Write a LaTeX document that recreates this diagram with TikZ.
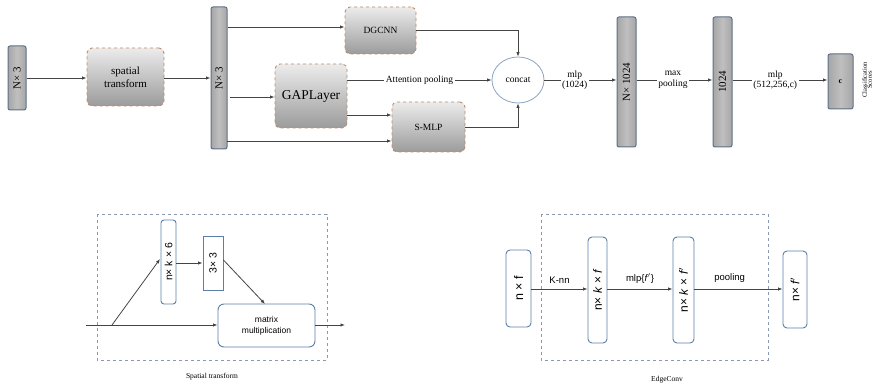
\documentclass[tikz,border=0pt]{standalone}
\usepackage{fontspec}
\setmainfont{Liberation Serif}
\setsansfont{Liberation Sans}
\usetikzlibrary{arrows.meta,shapes.geometric}
\definecolor{barborder}{HTML}{5E7088}
\definecolor{dashorange}{HTML}{C08A6A}
\definecolor{boxblue}{HTML}{5B7FA8}
\definecolor{framegray}{HTML}{8A98B0}
\definecolor{linegray}{HTML}{444444}
\tikzset{
  every picture/.style={x=1pt,y=-1pt},
  bar/.style={draw=barborder,line width=1pt,rounded corners=2pt,left color=gray!70,right color=gray!70,middle color=gray!50,inner sep=0pt,font=\fontsize{11}{12}\selectfont},
  dbox/.style={draw=dashorange,dashed,line width=0.9pt,rounded corners=5pt,top color=gray!15,bottom color=gray!78,inner sep=0pt,align=center},
  wbox/.style={draw=boxblue,line width=0.9pt,rounded corners=3pt,fill=white,inner sep=0pt,font=\sffamily},
  frame/.style={draw=framegray,dashed,line width=0.7pt},
  conn/.style={draw=linegray,line width=0.8pt},
  arr/.style={conn,-{Latex[length=4.5pt,width=3.5pt]}},
  lbl/.style={fill=white,inner sep=1.5pt,align=center,font=\fontsize{9.5}{10.5}\selectfont}
}
\begin{document}
\begin{tikzpicture}
\useasboundingbox (0,0) rectangle (879,387);
% ---------- top row ----------
\node[bar,minimum width=18pt,minimum height=64pt] (in) at (17,78) {\rotatebox{90}{N× 3}};
\node[dbox,minimum width=77pt,minimum height=58pt,font=\fontsize{11}{12.5}\selectfont] (st) at (125.5,77) {spatial\\transform};
\node[bar,minimum width=16pt,minimum height=142pt] (b1) at (219,78) {\rotatebox{90}{N× 3}};
\node[dbox,minimum width=71pt,minimum height=47pt,font=\fontsize{9.5}{10}\selectfont] (dg) at (380.5,30.5) {DGCNN};
\node[dbox,minimum width=72pt,minimum height=64pt,font=\fontsize{13.5}{15}\selectfont] (gap) at (311,96) {GAPLayer};
\node[dbox,minimum width=73pt,minimum height=50pt,font=\fontsize{9.5}{10}\selectfont] (sm) at (428.5,127) {S-MLP};
\node[ellipse,draw=boxblue!70,line width=0.8pt,fill=white,minimum width=52pt,minimum height=46pt,inner sep=0pt,font=\fontsize{9.5}{10}\selectfont] (cc) at (518,80) {concat};
\node[bar,minimum width=19pt,minimum height=130pt] (b2) at (626.5,82) {\rotatebox{90}{N× 1024}};
\node[bar,minimum width=19pt,minimum height=130pt] (b3) at (722.5,82) {\rotatebox{90}{1024}};
\node[bar,minimum width=25pt,minimum height=55pt,font=\bfseries\fontsize{8}{9}\selectfont] (c) at (840.5,81.5) {c};
\node[inner sep=0pt,font=\fontsize{6.5}{7}\selectfont,align=center] (cls) at (868,80) {\rotatebox{90}{\begin{tabular}{@{}c@{}}Classification\\[-2pt]Scores\end{tabular}}};

\coordinate (g0) at (230,97);
\coordinate (s0) at (227,141);
\coordinate (s1) at (347,115);
\draw[arr] (in.east |- 0,78) -- (st.west |- 0,78);
\draw[arr] (st.east |- 0,78) -- (b1.west |- 0,78);
\draw[arr] (b1.east |- 0,27) -- (dg.west |- 0,27);
\draw[arr] (g0) -- (gap.west |- g0);
\draw[arr] (s0) -- (sm.west |- s0);
\draw[arr] (s1) -- (sm.west |- s1);
\draw[arr] (dg.east) -| (cc.north);
\draw[arr] (sm.east) -| (cc.south);
\draw[arr] (gap.east |- cc.west) -- node[lbl]{Attention pooling} (cc.west);
\draw[arr] (cc.east) -- node[lbl,pos=0.42]{mlp\\(1024)} (b2.west |- cc.east);
\draw[arr] (b2.east |- cc.east) -- node[lbl,pos=0.48]{max\\pooling} (b3.west |- cc.east);
\draw[arr] (b3.east |- cc.east) -- node[lbl,pos=0.45]{mlp\\(512,256,c)} (c.west |- cc.east);

% ---------- spatial transform ----------
\draw[frame] (97,214) rectangle (327,360);
\node[wbox,minimum width=15pt,minimum height=84pt,font=\sffamily\fontsize{10.5}{12}\selectfont] (nk6) at (168.5,262) {\rotatebox{90}{n× k × 6}};
\node[wbox,rounded corners=0pt,minimum width=20pt,minimum height=54pt,font=\sffamily\fontsize{10.5}{12}\selectfont] (b33) at (213,263) {\rotatebox{90}{3× 3}};
\node[wbox,rounded corners=6pt,minimum width=97pt,minimum height=43pt,align=center,font=\sffamily\fontsize{8.5}{11}\selectfont] (mm) at (266.5,325.5) {matrix\\multiplication};
\coordinate (i0) at (86,325);
\coordinate (br) at (112,325);
\coordinate (o0) at (345,325);
\draw[arr] (i0) -- (mm.west |- i0);
\draw[arr] (br) -- (160,259);
\draw[arr] (nk6.east |- 0,263) -- (b33.west |- 0,263);
\draw[arr] (b33.east |- 0,260) -- (265,304);
\draw[arr] (mm.east |- o0) -- (o0);
\node[font=\fontsize{7.5}{8}\selectfont] (stl) at (212,377) {Spatial transform};

% ---------- EdgeConv ----------
\draw[frame] (541,214) rectangle (768,360);
\node[wbox,rounded corners=4pt,minimum width=25pt,minimum height=77pt,font=\sffamily\fontsize{12.5}{14}\selectfont] (nf) at (518.5,288.5) {\rotatebox{90}{n × f}};
\node[wbox,rounded corners=4pt,minimum width=19pt,minimum height=106pt,font=\sffamily\fontsize{12}{14}\selectfont] (nkf) at (597.5,290) {\rotatebox{90}{n× \textit{k} × \textit{f}}};
\node[wbox,rounded corners=4pt,minimum width=21pt,minimum height=106pt,font=\sffamily\fontsize{12}{14}\selectfont] (nkf2) at (683.5,290) {\rotatebox{90}{n× \textit{k} × \textit{f}$'$}};
\node[wbox,rounded corners=4pt,minimum width=24pt,minimum height=77pt,font=\sffamily\fontsize{12}{14}\selectfont] (nf2) at (795,289.5) {\rotatebox{90}{n× \textit{f}$'$}};
\draw[arr] (nf.east |- 0,289) -- node[above=2pt,font=\sffamily\fontsize{9.5}{10}\selectfont]{K-nn} (nkf.west |- 0,289);
\draw[arr] (nkf.east |- 0,289) -- node[above=2pt,font=\sffamily\fontsize{9.5}{10}\selectfont]{mlp\{\textit{f}$'$\}} (nkf2.west |- 0,289);
\draw[arr] (nkf2.east |- 0,289) -- node[above=3pt,pos=0.4,font=\sffamily\fontsize{9.5}{10}\selectfont]{pooling} (nf2.west |- 0,289);
\node[font=\fontsize{7.5}{8}\selectfont] (ecl) at (667,380) {EdgeConv};
\end{tikzpicture}
\end{document}
